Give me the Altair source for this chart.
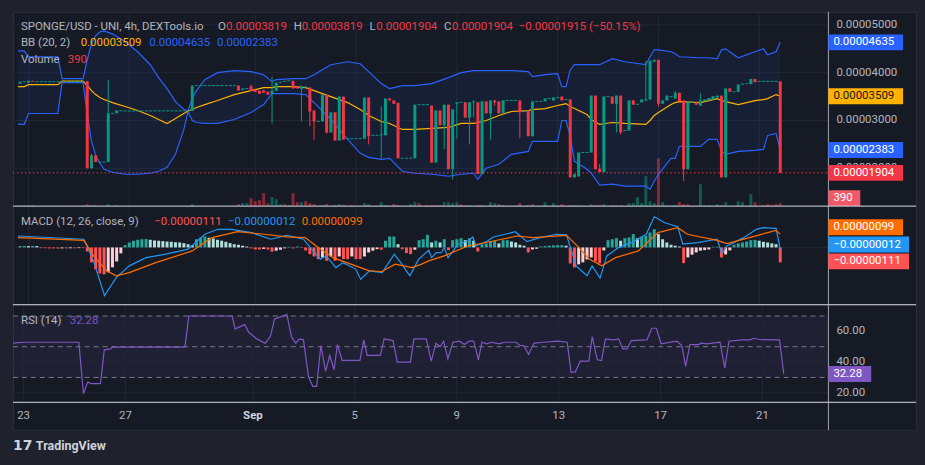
import altair as alt
import pandas as pd

# ---------------------------------------------------------------- data
# time axis: t = index of 4h candle counted from Aug 23 00:00
PRICE_UNIT = 1e-5   # price-pane values are in units of 0.00001 USD
MACD_UNIT = 1e-6    # MACD-pane values are in units of 0.000001

C_T = [-2, 0, 1, 14, 15, 16, 19, 21, 39, 50,
       51, 53, 54, 55, 56, 57, 58, 59, 60, 61,
       63, 64, 65, 67, 68, 70, 71, 72, 73, 74,
       75, 80, 81, 84, 85, 86, 87, 88, 92, 96,
       97, 98, 99, 100, 101, 102, 104, 105, 106, 107,
       108, 109, 110, 111, 112, 113, 117, 119, 120, 123,
       125, 127, 129, 130, 131, 134, 135, 136, 137, 139,
       140, 141, 143, 144, 145, 146, 147, 148, 149, 150,
       151, 152, 154, 155, 156, 157, 159, 160, 161, 162,
       163, 164, 165, 166, 167, 169, 170, 172, 173, 179]
C_O = [3.77, 3.79, 3.83, 3.82, 2.00, 2.27, 2.13, 3.15, 3.20, 3.73,
       3.64, 3.71, 3.64, 3.62, 3.63, 3.60, 3.56, 3.62, 3.79, 3.81,
       3.83, 3.71, 3.66, 3.69, 3.21, 2.98, 3.54, 2.75, 3.17, 2.58,
       3.50, 2.62, 3.48, 2.69, 2.69, 3.46, 3.42, 3.37, 2.21, 3.31,
       2.12, 3.21, 2.90, 3.33, 1.98, 3.35, 3.38, 3.06, 3.38, 3.38,
       1.88, 3.40, 3.15, 3.42, 3.40, 3.15, 3.42, 3.21, 2.67, 3.40,
       3.42, 3.50, 3.44, 1.81, 1.83, 2.33, 3.52, 1.99, 1.92, 3.50,
       3.35, 3.52, 2.79, 3.42, 3.33, 3.38, 3.42, 3.44, 4.23, 4.27,
       3.35, 3.42, 3.46, 3.58, 3.42, 1.98, 3.38, 3.31, 3.40, 3.42,
       3.44, 3.48, 3.52, 1.81, 3.67, 3.60, 3.75, 3.76, 3.87, 3.819]
C_H = [3.81, 3.83, 3.83, 3.83, 2.31, 2.27, 3.85, 3.21, 3.73, 3.73,
       3.67, 3.75, 3.65, 3.63, 3.64, 3.60, 3.92, 3.79, 3.81, 3.83,
       3.83, 3.71, 3.73, 3.69, 3.21, 3.54, 3.54, 3.17, 3.17, 3.50,
       3.50, 3.48, 3.48, 3.29, 3.46, 3.46, 3.42, 3.37, 3.33, 3.31,
       3.21, 3.21, 3.33, 3.33, 3.23, 3.38, 3.38, 3.38, 3.42, 3.38,
       3.40, 3.40, 3.42, 3.42, 3.40, 3.42, 3.42, 3.21, 3.40, 3.46,
       3.48, 3.50, 3.44, 1.88, 2.33, 3.52, 3.52, 2.09, 3.50, 3.50,
       3.52, 3.52, 3.42, 3.42, 3.35, 3.44, 4.25, 4.25, 4.27, 4.27,
       3.42, 3.52, 3.62, 3.58, 3.42, 3.38, 3.38, 3.57, 3.44, 3.47,
       3.51, 3.52, 3.52, 3.67, 3.67, 3.75, 3.77, 3.87, 3.87, 3.819]
C_L = [3.77, 3.79, 3.81, 2.00, 2.00, 2.13, 2.13, 3.15, 3.20, 3.62,
       3.64, 3.62, 3.60, 3.56, 3.58, 3.54, 2.94, 3.62, 3.79, 3.81,
       3.67, 3.67, 2.98, 2.88, 2.60, 2.98, 2.72, 2.75, 2.58, 2.58,
       2.60, 2.62, 2.50, 2.21, 2.69, 3.42, 3.35, 2.21, 2.21, 2.12,
       2.12, 2.90, 2.40, 1.98, 1.77, 2.62, 3.06, 2.50, 3.06, 1.88,
       1.88, 3.15, 2.60, 3.31, 3.15, 3.15, 2.63, 2.67, 2.67, 3.40,
       3.42, 3.42, 1.81, 1.81, 1.83, 2.33, 1.98, 1.92, 1.92, 3.35,
       2.75, 2.71, 2.79, 3.33, 3.33, 3.38, 3.40, 3.44, 4.23, 3.29,
       3.35, 3.42, 3.46, 3.40, 1.73, 1.98, 3.33, 3.31, 3.40, 3.42,
       3.44, 3.48, 1.81, 1.81, 3.60, 3.60, 3.75, 3.76, 3.80, 1.904]
C_C = [3.81, 3.83, 3.81, 2.00, 2.27, 2.13, 3.15, 3.21, 3.73, 3.63,
       3.67, 3.62, 3.60, 3.56, 3.58, 3.54, 3.62, 3.79, 3.81, 3.83,
       3.67, 3.67, 3.71, 3.19, 2.98, 3.54, 2.75, 3.17, 2.58, 3.50,
       2.60, 3.48, 2.67, 2.71, 3.46, 3.42, 3.35, 2.21, 3.33, 2.12,
       3.21, 2.90, 3.33, 1.98, 3.23, 3.38, 3.06, 3.38, 3.40, 1.88,
       3.40, 3.15, 3.42, 3.38, 3.15, 3.42, 3.17, 2.67, 3.40, 3.46,
       3.48, 3.42, 1.81, 1.88, 2.33, 3.52, 1.98, 1.92, 3.50, 3.35,
       3.52, 2.75, 3.42, 3.33, 3.35, 3.44, 3.44, 4.25, 4.27, 3.35,
       3.42, 3.52, 3.58, 3.40, 1.98, 3.38, 3.33, 3.42, 3.44, 3.47,
       3.51, 3.52, 1.81, 3.67, 3.60, 3.75, 3.77, 3.87, 3.80, 1.904]

# runs of no-trade (flat) candles: first t, last t, price
F_T0 = [-1, 2, 17, 20, 22, 40, 52, 62, 66, 69, 76, 82, 89, 93, 103, 114, 118, 121,
        124, 126, 128, 132, 138, 142, 153, 158, 168, 171, 174]
F_T1 = [-1, 13, 18, 20, 38, 49, 52, 62, 66, 69, 79, 83, 91, 95, 103, 116, 118, 122,
        124, 126, 128, 133, 138, 142, 153, 158, 168, 171, 178]
F_P = [3.81, 3.81, 2.13, 3.15, 3.20, 3.73, 3.67, 3.83, 3.70, 2.98, 2.62, 2.69, 2.21, 3.33,
       3.38, 3.42, 3.19, 3.40, 3.46, 3.48, 3.44, 2.33, 3.50, 2.79, 3.50, 3.38, 3.60, 3.77,
       3.819]

# volume (t, volume, 1 = up candle)
V_T = [-2, -1, 0, 1, 13, 14, 15, 16, 19, 21, 39, 50, 51, 52, 53, 54, 55, 56, 57, 58,
       59, 60, 61, 62, 63, 64, 65, 66, 67, 68, 70, 71, 73, 74, 75, 77, 80, 81, 84, 85,
       87, 88, 91, 92, 93, 95, 96, 97, 98, 99, 100, 101, 102, 103, 104, 105, 107, 108, 110, 111,
       112, 113, 117, 119, 120, 123, 125, 127, 129, 130, 131, 134, 135, 136, 137, 139, 140, 141, 143, 144,
       145, 146, 147, 148, 149, 150, 151, 152, 154, 155, 156, 157, 160, 161, 162, 164, 165, 166, 169, 170,
       172, 173, 175, 176, 177, 178, 179]
V_VAL = [130, 130, 130, 130, 130, 260, 130, 130, 260, 130, 260, 260, 390, 390, 1040, 650, 780, 1690, 390, 1170,
         910, 260, 260, 130, 1690, 520, 520, 650, 390, 260, 130, 260, 130, 260, 130, 130, 390, 260, 520, 130,
         260, 130, 260, 520, 390, 130, 130, 130, 130, 520, 520, 390, 520, 260, 130, 130, 130, 130, 520, 390,
         260, 130, 390, 130, 260, 520, 390, 260, 130, 130, 130, 260, 130, 130, 260, 130, 130, 130, 390, 390,
         1170, 390, 3900, 650, 390, 6240, 520, 130, 130, 520, 260, 260, 2860, 130, 130, 260, 130, 520, 650, 520,
         1560, 520, 130, 260, 130, 260, 390]
V_UP = [1, 1, 0, 1, 1, 0, 1, 0, 1, 1, 1, 0, 1, 1, 0, 0, 0, 0, 0, 1,
        1, 1, 0, 1, 0, 0, 1, 0, 0, 0, 1, 0, 0, 1, 0, 0, 1, 1, 1, 1,
        0, 0, 1, 1, 0, 0, 0, 0, 0, 1, 1, 1, 1, 0, 0, 1, 0, 1, 1, 1,
        0, 1, 0, 0, 0, 1, 1, 0, 0, 1, 1, 1, 0, 0, 1, 0, 1, 0, 1, 1,
        1, 1, 1, 1, 1, 0, 1, 1, 1, 0, 0, 0, 1, 1, 1, 1, 0, 1, 1, 1,
        1, 0, 0, 0, 0, 0, 0]

# Bollinger Bands (20, 2): upper, basis, lower
BB_T = [-2.5, -1, 0, 7, 8, 13, 14, 15, 16, 17,
        18, 20, 23, 26, 29, 31, 33, 35, 37, 38,
        39, 40, 42, 45, 49, 53, 56, 58, 59, 63,
        66, 68, 72, 76, 79, 81, 84, 86, 89, 92,
        96, 100, 103, 106, 107, 109, 112, 115, 119, 120,
        123, 126, 127, 128, 129, 130, 133, 134, 136, 139,
        142, 147, 148, 149, 150, 153, 154, 155, 160, 162,
        164, 165, 166, 169, 173, 175, 176, 178, 179]
BB_U = [4.458, 4.458, 4.333, 4.333, 3.875, 3.875, 4.271, 4.604, 4.771, 4.854,
        4.875, 4.813, 4.646, 4.438, 4.167, 3.896, 3.667, 3.396, 3.229, 3.208,
        3.458, 3.625, 3.854, 4.000, 4.042, 4.021, 3.958, 3.813, 3.854, 3.875,
        3.875, 3.958, 4.167, 4.229, 4.188, 4.021, 3.771, 3.667, 3.729, 3.729,
        3.771, 3.896, 4.000, 4.042, 4.042, 4.042, 4.042, 4.042, 4.021, 3.917,
        3.958, 3.979, 3.708, 3.708, 4.063, 4.167, 4.167, 4.167, 4.167, 4.292,
        4.229, 4.167, 4.333, 4.479, 4.479, 4.438, 4.396, 4.333, 4.313, 4.313,
        4.292, 4.479, 4.500, 4.313, 4.438, 4.500, 4.375, 4.438, 4.635]
BB_M = [3.708, 3.708, 3.750, 3.750, 3.823, 3.823, 3.729, 3.625, 3.542, 3.479,
        3.438, 3.375, 3.292, 3.208, 3.104, 3.021, 2.938, 3.042, 3.146, 3.198,
        3.229, 3.271, 3.333, 3.417, 3.542, 3.625, 3.688, 3.688, 3.708, 3.708,
        3.688, 3.625, 3.500, 3.375, 3.229, 3.104, 2.979, 2.938, 2.813, 2.813,
        2.833, 2.854, 2.938, 2.938, 2.958, 3.000, 3.104, 3.188, 3.208, 3.229,
        3.250, 3.313, 3.333, 3.354, 3.292, 3.250, 3.125, 3.021, 2.917, 2.958,
        2.938, 2.917, 3.000, 3.104, 3.167, 3.333, 3.375, 3.396, 3.375, 3.417,
        3.458, 3.417, 3.396, 3.333, 3.417, 3.438, 3.458, 3.542, 3.509]
BB_L = [2.917, 2.917, 3.146, 3.146, 3.792, 3.792, 3.146, 2.563, 2.271, 2.104,
        1.979, 1.917, 1.875, 1.875, 1.896, 1.938, 2.021, 2.292, 2.813, 3.188,
        3.000, 2.958, 2.938, 2.938, 3.021, 3.167, 3.333, 3.563, 3.563, 3.563,
        3.542, 3.375, 3.021, 2.604, 2.313, 2.229, 2.188, 2.208, 1.938, 1.896,
        1.875, 1.833, 1.875, 1.896, 1.771, 2.000, 2.083, 2.292, 2.354, 2.563,
        2.563, 2.563, 3.000, 3.000, 2.667, 2.146, 1.979, 1.896, 1.646, 1.667,
        1.625, 1.625, 1.563, 1.729, 1.875, 2.208, 2.208, 2.458, 2.458, 2.604,
        2.604, 2.354, 2.292, 2.354, 2.375, 2.396, 2.688, 2.729, 2.383]

# MACD (12, 26, close, 9)
M_T = [-2.5, 13.2, 15.5, 18.1, 20.9, 24.0, 28.0, 32.7, 38.0, 42.0, 45.1, 48.4, 53.1, 57.7,
       61.5, 65.5, 67.1, 69.5, 70.9, 73.2, 74.9, 77.9, 79.1, 81.2, 84.2, 87.1, 88.9, 90.8,
       92.9, 95.3, 96.0, 97.1, 98.3, 99.0, 99.9, 102.3, 104.6, 105.8, 106.5, 109.3, 110.7,
       114.0, 115.9, 118.7, 121.8, 125.7, 128.1, 130.4, 133.0, 134.2, 136.1, 137.7, 140.5,
       143.6, 147.1, 149.0, 151.5, 154.6, 155.8, 159.3, 164.0, 165.1, 166.3, 170.3, 173.3,
       175.0, 178.0, 179.0]
M_V = [0.85, 0.61, -1.00, -3.59, -2.24, -1.37, -0.76, -0.50, -0.13, 0.98, 1.35, 1.35, 1.10, 0.61,
       0.90, 0.61, -0.01, -0.87, -0.63, -1.50, -1.13, -1.61, -2.36, -1.74, -1.87, -0.50, -1.24, -2.11,
       -0.87, -0.21, -0.76, -0.39, -0.39, -0.01, -0.76, 0.24, 0.48, 0.78, 0.11, 0.48, 0.78,
       1.02, 1.17, 0.43, 0.73, 0.98, 0.93, -1.37, -2.11, -1.37, -2.28, -0.63, -0.01,
       0.36, 0.98, 2.28, 1.84, 1.54, 0.24, 0.36, 0.61, -0.46, 0.11, 0.73, 1.35,
       1.47, 1.42, -0.12]
S_T = [-2.5, 13.2, 15.5, 18.6, 20.9, 24.0, 30.3, 39.0, 43.7, 49.8,
       56.1, 61.5, 65.9, 68.5, 72.5, 77.9, 81.2, 84.2, 87.3, 91.3,
       93.6, 95.3, 99.0, 104.6, 110.7, 116.4, 120.1, 128.1, 131.1, 133.5,
       136.5, 139.8, 145.2, 149.9, 154.6, 156.9, 164.0, 166.3, 171.7, 178.0, 179.0]
S_V = [0.73, 0.53, -0.63, -1.74, -2.11, -1.87, -1.13, -0.26, 0.73, 1.17,
       0.98, 0.78, 0.73, 0.11, -0.76, -1.37, -1.74, -1.79, -1.24, -1.50,
       -1.24, -1.00, -0.63, 0.11, 0.48, 0.85, 0.73, 0.90, -0.01, -0.87,
       -1.37, -0.76, -0.26, 1.10, 1.47, 0.98, 0.53, 0.28, 0.73, 1.27, 0.99]
HIST_T0 = -2   # one histogram value per candle from t = -2
HIST = [0.11, 0.11, 0.10, 0.11, 0.10,
        -0.05, -0.06, -0.07, -0.07, -0.08, -0.07, -0.07, -0.06, -0.06, -0.05, -0.05,
        -0.30, -1.11, -1.63, -1.93, -2.00, -1.85, -1.48, -1.04, -0.44, 0.17,
        0.37, 0.50, 0.57, 0.61, 0.62, 0.57, 0.52, 0.50, 0.47, 0.44,
        0.42, 0.39, 0.37, 0.32, 0.24, 0.17, 0.61, 0.74, 0.81, 0.72,
        0.67, 0.57, 0.50, 0.42, 0.32, 0.24, 0.20, 0.13, 0.07, -0.07,
        -0.15, -0.15, -0.11, -0.15, -0.32, -0.24, -0.17, -0.07, 0.05, -0.07,
        0.07, -0.04, -0.22, -0.50, -0.67, -0.87, -0.74, -0.99, -0.67, -0.99,
        -0.67, -0.87, -0.87, -0.67, -0.87, -0.87, -0.67, -0.37, -0.24, -0.13,
        -0.17, 0.50, 0.81, 0.81, 0.24, -0.13, -0.42, -0.50, -0.17, 0.54,
        0.61, 0.94, 0.37, 0.50, 0.37, 0.61, -0.20, 0.54, 0.61, 0.69,
        0.54, 0.69, 0.50, -0.30, 0.24, 0.30, 0.44, 0.50, 0.30, 0.54,
        0.54, 0.44, 0.37, 0.20, 0.13, -0.37, -0.15, -0.10, 0.07, 0.10,
        0.13, 0.15, 0.17, 0.17, 0.13, -1.19, -1.48, -1.26, -1.11, -0.89,
        -0.74, -1.04, -1.19, -0.22, 0.54, 0.61, 0.69, 0.50, 0.69, 0.74,
        0.99, 0.69, 0.79, 0.87, 1.11, 1.36, 0.99, 0.61, 0.37, 0.20,
        0.13, 0.07, -1.17, -0.74, -0.54, -0.37, -0.24, -0.20, -0.15, 0.05,
        0.05, -0.74, -0.52, -0.22, 0.20, 0.30, 0.37, 0.44, 0.54, 0.56,
        0.50, 0.42, 0.37, 0.30, 0.24, -1.11]

# RSI (14)
R_T = [-2.5, 0.2, 13.0, 14.1, 15.1, 15.9, 18.1, 19.0, 20.5, 20.9,
       38.0, 38.9, 49.1, 49.8, 52.1, 53.0, 54.9, 56.9, 58.1, 59.1,
       62.0, 63.1, 64.1, 64.9, 65.9, 67.1, 68.1, 69.0, 70.0, 71.1,
       72.1, 73.1, 73.9, 75.0, 79.2, 80.1, 80.9, 84.0, 84.9, 87.0,
       88.0, 91.1, 91.9, 94.8, 96.0, 97.1, 98.1, 98.9, 99.9, 101.1,
       102.6, 103.8, 104.9, 106.0, 107.1, 107.9, 109.1, 110.2, 112.0, 113.2,
       115.9, 116.9, 117.8, 118.9, 120.2, 122.5, 125.7, 128.0, 128.9, 129.9,
       131.1, 133.1, 133.9, 135.1, 136.1, 137.0, 138.9, 140.1, 141.1, 142.1,
       143.1, 146.8, 147.9, 149.0, 150.1, 153.8, 155.0, 155.9, 156.9, 158.9,
       159.7, 160.8, 164.0, 165.1, 166.1, 169.1, 171.1, 171.9, 173.3, 178.0,
       179.0]
R_V = [52.3, 52.9, 52.9, 19.5, 27.0, 26.0, 26.0, 48.0, 48.6, 49.7,
       49.7, 70.0, 70.0, 61.6, 64.4, 59.4, 55.1, 52.3, 56.6, 68.1,
       70.9, 56.2, 52.3, 55.1, 54.5, 30.2, 24.2, 24.2, 50.8, 34.1,
       44.3, 35.0, 51.4, 41.1, 41.1, 54.5, 44.3, 44.3, 55.1, 54.0,
       40.0, 40.0, 55.1, 55.1, 40.6, 52.3, 50.1, 53.6, 42.2, 52.9,
       53.6, 51.4, 53.6, 53.6, 41.5, 52.9, 51.9, 52.9, 51.9, 52.9,
       52.9, 50.8, 50.8, 45.0, 52.3, 52.9, 53.6, 52.9, 33.5, 33.5,
       40.6, 40.6, 56.6, 41.5, 41.0, 55.1, 54.5, 55.1, 48.6, 48.6,
       54.0, 54.5, 62.0, 62.0, 51.9, 53.6, 50.8, 37.2, 51.4, 51.4,
       52.3, 51.9, 52.9, 36.1, 53.6, 54.5, 54.5, 55.5, 54.7, 54.5,
       32.28]

TICK_T = [0, 24, 54, 78, 102, 126, 150, 174]
TICK_LBL = ["23", "27", "Sep", "5", "9", "13", "17", "21"]
PRICE_TICKS = [2, 3, 4, 5]
RSI_TICKS = [20, 40, 60]
RSI_LEVELS = [70, 50, 30]

# ---------------------------------------------------------------- style
FONT = "Roboto"
FS = 11.5
BG = "#161a25"
OUTER = "#1f222d"
GRID = "#232734"
BORDER = "#2a2e39"
SEP = "#d1d4dc"
SCALE_LINE = "#a3a6af"
TXT = "#b2b5be"
UP = "#089981"
DN = "#f23645"
BB_BLUE = "#2962ff"
BB_MID_C = "#ffb300"
MACD_C = "#2196f3"
SIG_C = "#ff6d00"
HIST_RED = "#ff5252"
RSI_C = "#7e57c2"

W = 907
AXX = 819
H_PRICE, H_MACD, H_RSI, H_TIME, H_LOGO = 195, 99, 98, 28, 35

XS = alt.Scale(domain=[-2.509, 210.15], nice=False, zero=False)
PYS = alt.Scale(domain=[1.2083, 5.2708], nice=False, zero=False)
VYS = alt.Scale(domain=[0, 25350], nice=False)
MYS = alt.Scale(domain=[-4.259, 3.074], nice=False, zero=False)
RYS = alt.Scale(domain=[13.84, 77.35], nice=False, zero=False)

ONE = pd.DataFrame({"k": [0]})


def xq(f="t"):
    return alt.X(f"{f}:Q", scale=XS, axis=None)


def yq(f, sc):
    return alt.Y(f"{f}:Q", scale=sc, axis=None)


def vgrid(h):
    return alt.Chart(pd.DataFrame({"t": TICK_T})).mark_rule(color=GRID, strokeWidth=1).encode(
        x=xq(), y=alt.value(0), y2=alt.value(h))


def hrule(values, sc, **kw):
    return alt.Chart(pd.DataFrame({"v": values})).mark_rule(**kw).encode(
        x=alt.value(0), x2=alt.value(AXX), y=yq("v", sc))


def scale_line(h):
    return alt.Chart(ONE).mark_rule(color=SCALE_LINE, strokeWidth=1).encode(
        x=alt.value(AXX), y=alt.value(0), y2=alt.value(h))


def top_sep():
    return alt.Chart(ONE).mark_rule(color=SEP, strokeWidth=1).encode(
        x=alt.value(0), x2=alt.value(W), y=alt.value(0))


def txt(s, x, y, color, size=FS, weight="normal", font=FONT):
    return alt.Chart(ONE).mark_text(text=s, font=font, fontSize=size, fontWeight=weight,
                                    color=color, align="left", baseline="middle").encode(
        x=alt.value(x), y=alt.value(y))


def axis_labels(values, labels, sc):
    d = pd.DataFrame({"v": values, "lab": labels})
    return alt.Chart(d).mark_text(font=FONT, fontSize=FS, color=TXT, align="left",
                                  baseline="middle").encode(
        x=alt.value(827), y=yq("v", sc), text="lab:N")


def val_box(value, sc, label, fill, tcol, x2=894, dy=0.0):
    d = pd.DataFrame({"v": [value]})
    r = alt.Chart(d).mark_rect(color=fill, yOffset=dy - 8, y2Offset=dy + 8).encode(
        x=alt.value(AXX), x2=alt.value(x2), y=yq("v", sc), y2="v:Q")
    t = alt.Chart(d).mark_text(text=label, font=FONT, fontSize=FS, color=tcol, align="left",
                               baseline="middle", dy=dy).encode(
        x=alt.value(824), y=yq("v", sc))
    return [r, t]


def fmt(v, unit):
    s = f"{abs(v) * unit:.8f}"
    return ("\u2212" if v < 0 else "") + s


# ---------------------------------------------------------------- price pane
cdf = pd.DataFrame({"t": C_T, "o": C_O, "h": C_H, "l": C_L, "c": C_C})
cdf["col"] = [UP if c >= o else DN for o, c in zip(C_O, C_C)]
fdf = pd.DataFrame({"t0": F_T0, "t1": F_T1, "p": F_P})
vdf = pd.DataFrame({"t": V_T, "v": V_VAL,
                    "col": ["rgba(8,153,129,0.5)" if u else "rgba(242,54,69,0.5)" for u in V_UP]})
bdf = pd.DataFrame({"t": BB_T, "u": BB_U, "m": BB_M, "lo": BB_L})

price_layers = [
    vgrid(H_PRICE),
    hrule(PRICE_TICKS, PYS, color=GRID, strokeWidth=1),
    alt.Chart(bdf).mark_area(color=BB_BLUE, opacity=0.07).encode(x=xq(), y=yq("u", PYS), y2="lo:Q"),
    alt.Chart(vdf).mark_bar(size=3).encode(x=xq(), y=yq("v", VYS), y2=alt.datum(0),
                                          color=alt.Color("col:N", scale=None)),
    alt.Chart(bdf).mark_line(color=BB_BLUE, strokeWidth=1.2).encode(x=xq(), y=yq("u", PYS)),
    alt.Chart(bdf).mark_line(color=BB_BLUE, strokeWidth=1.2).encode(x=xq(), y=yq("lo", PYS)),
    alt.Chart(bdf).mark_line(color=BB_MID_C, strokeWidth=1.2).encode(x=xq(), y=yq("m", PYS)),
    alt.Chart(fdf).mark_rule(color=UP, strokeWidth=1, strokeDash=[3, 1.265], xOffset=-1.5,
                             x2Offset=1.5).encode(x=xq("t0"), x2="t1:Q", y=yq("p", PYS)),
    alt.Chart(cdf).mark_rule(strokeWidth=1).encode(x=xq(), y=yq("l", PYS), y2="h:Q",
                                                   color=alt.Color("col:N", scale=None)),
    alt.Chart(cdf).mark_bar(size=3).encode(x=xq(), y=yq("o", PYS), y2="c:Q",
                                           color=alt.Color("col:N", scale=None)),
    hrule([C_C[-1]], PYS, color=DN, strokeWidth=1, strokeDash=[1.5, 2.5]),
    scale_line(H_PRICE),
    axis_labels(PRICE_TICKS, [fmt(v, PRICE_UNIT) for v in PRICE_TICKS], PYS),
]
price_layers += val_box(BB_U[-1], PYS, fmt(BB_U[-1], PRICE_UNIT), BB_BLUE, "#ffffff")
price_layers += val_box(BB_M[-1], PYS, fmt(BB_M[-1], PRICE_UNIT), BB_MID_C, "#131722")
price_layers += val_box(BB_L[-1], PYS, fmt(BB_L[-1], PRICE_UNIT), BB_BLUE, "#ffffff")
price_layers += val_box(C_C[-1], PYS, fmt(C_C[-1], PRICE_UNIT), DN, "#ffffff")
price_layers += val_box(V_VAL[-1], VYS, str(V_VAL[-1]), "#f05a68", "#ffffff", x2=851, dy=-5)
price_layers += [
    txt("SPONGE/USD - UNI, 4h, DEXTools.io", 8, 15, TXT),
    txt("O", 206, 15, TXT), txt(fmt(C_O[-1], PRICE_UNIT), 214, 15, DN),
    txt("H", 282, 15, TXT), txt(fmt(C_H[-1], PRICE_UNIT), 290, 15, DN),
    txt("L", 358, 15, TXT), txt(fmt(C_L[-1], PRICE_UNIT), 365, 15, DN),
    txt("C", 433, 15, TXT), txt(fmt(C_C[-1], PRICE_UNIT), 441, 15, DN),
    txt("\u22120.00001915 (\u221250.15%)", 508, 15, DN),
    txt("BB (20, 2)", 8, 31, TXT), txt(fmt(BB_M[-1], PRICE_UNIT), 68, 31, BB_MID_C),
    txt(fmt(BB_U[-1], PRICE_UNIT), 137, 31, BB_BLUE), txt(fmt(BB_L[-1], PRICE_UNIT), 205, 31, BB_BLUE),
    txt("Volume", 8, 48, TXT), txt(str(V_VAL[-1]), 55, 48, DN),
]
price = alt.layer(*price_layers).resolve_scale(y="independent").properties(width=W, height=H_PRICE)

# ---------------------------------------------------------------- MACD pane
hcol = []
prev = None
for v in HIST:
    if v >= 0:
        hcol.append("#26a69a" if prev is None or v >= prev else "#b2dfdb")
    else:
        hcol.append(HIST_RED if prev is None or v <= prev else "#ffcdd2")
    prev = v
hdf = pd.DataFrame({"t": list(range(HIST_T0, HIST_T0 + len(HIST))), "h": HIST, "col": hcol})
mdf = pd.DataFrame({"t": M_T, "v": M_V})
sdf = pd.DataFrame({"t": S_T, "v": S_V})

macd_layers = [
    vgrid(H_MACD),
    hrule([0], MYS, color=GRID, strokeWidth=1),
    alt.Chart(hdf).mark_bar(size=3).encode(x=xq(), y=yq("h", MYS), y2=alt.datum(0),
                                          color=alt.Color("col:N", scale=None)),
    alt.Chart(mdf).mark_line(color=MACD_C, strokeWidth=1.2).encode(x=xq(), y=yq("v", MYS)),
    alt.Chart(sdf).mark_line(color=SIG_C, strokeWidth=1.2).encode(x=xq(), y=yq("v", MYS)),
    scale_line(H_MACD),
    top_sep(),
]
macd_layers += val_box(S_V[-1], MYS, fmt(S_V[-1], MACD_UNIT), SIG_C, "#ffffff", dy=-7)
macd_layers += val_box(M_V[-1], MYS, fmt(M_V[-1], MACD_UNIT), MACD_C, "#ffffff", x2=900, dy=-4.5)
macd_layers += val_box(HIST[-1], MYS, fmt(HIST[-1], MACD_UNIT), HIST_RED, "#ffffff", x2=900, dy=-1)
macd_layers += [
    txt("MACD (12, 26, close, 9)", 8, 16, TXT),
    txt(fmt(HIST[-1], MACD_UNIT), 142, 16, HIST_RED),
    txt(fmt(M_V[-1], MACD_UNIT), 216, 16, MACD_C),
    txt(fmt(S_V[-1], MACD_UNIT), 290, 16, SIG_C),
]
macd = alt.layer(*macd_layers).properties(width=W, height=H_MACD)

# ---------------------------------------------------------------- RSI pane
rdf = pd.DataFrame({"t": R_T, "v": R_V})
rsi_layers = [
    alt.Chart(pd.DataFrame({"hi": [70], "lo": [30]})).mark_rect(color=RSI_C, opacity=0.1).encode(
        x=alt.value(0), x2=alt.value(AXX), y=yq("hi", RYS), y2="lo:Q"),
    vgrid(H_RSI),
    hrule(RSI_TICKS, RYS, color=GRID, strokeWidth=1),
    hrule(RSI_LEVELS, RYS, color="#787b86", strokeWidth=1, strokeDash=[5, 4]),
    alt.Chart(rdf).mark_line(color=RSI_C, strokeWidth=1.2).encode(x=xq(), y=yq("v", RYS)),
    scale_line(H_RSI),
    top_sep(),
    axis_labels(RSI_TICKS, [f"{v:.2f}" for v in RSI_TICKS], RYS),
]
rsi_layers += val_box(R_V[-1], RYS, f"{R_V[-1]:.2f}", RSI_C, "#ffffff", x2=862)
rsi_layers += [txt("RSI (14)", 8, 16, TXT), txt(f"{R_V[-1]:.2f}", 57, 16, RSI_C)]
rsi = alt.layer(*rsi_layers).properties(width=W, height=H_RSI)

# ---------------------------------------------------------------- time axis strip
tdf = pd.DataFrame({"t": TICK_T, "lab": TICK_LBL})
time_strip = alt.layer(
    alt.Chart(tdf).transform_filter("datum.lab != 'Sep'").mark_text(
        font=FONT, fontSize=FS, color=TXT, baseline="middle").encode(
        x=xq(), y=alt.value(14), text="lab:N"),
    alt.Chart(tdf).transform_filter("datum.lab == 'Sep'").mark_text(
        font=FONT, fontSize=FS, color="#d1d4dc", fontWeight="bold", baseline="middle").encode(
        x=xq(), y=alt.value(14), text="lab:N"),
    scale_line(H_TIME),
    top_sep(),
).properties(width=W, height=H_TIME)

# ---------------------------------------------------------------- logo strip
logo = alt.layer(
    txt("17", 0, 16, "#d1d4dc", size=14, weight="bold", font="DejaVu Sans"),
    txt("TradingView", 23, 16, "#d1d4dc", size=12.5, weight="bold"),
).properties(width=W, height=H_LOGO,
             view=alt.ViewBackground(fill="transparent", stroke="transparent"))

chart = alt.vconcat(price, macd, rsi, time_strip, logo, spacing=0, bounds="flush").properties(
    padding={"left": 10, "top": 10, "right": 8, "bottom": 0},
    background=OUTER,
).configure_view(fill=BG, stroke=BORDER, strokeWidth=1)

chart.save("out.html", embed_options={"renderer": "svg", "actions": False})
